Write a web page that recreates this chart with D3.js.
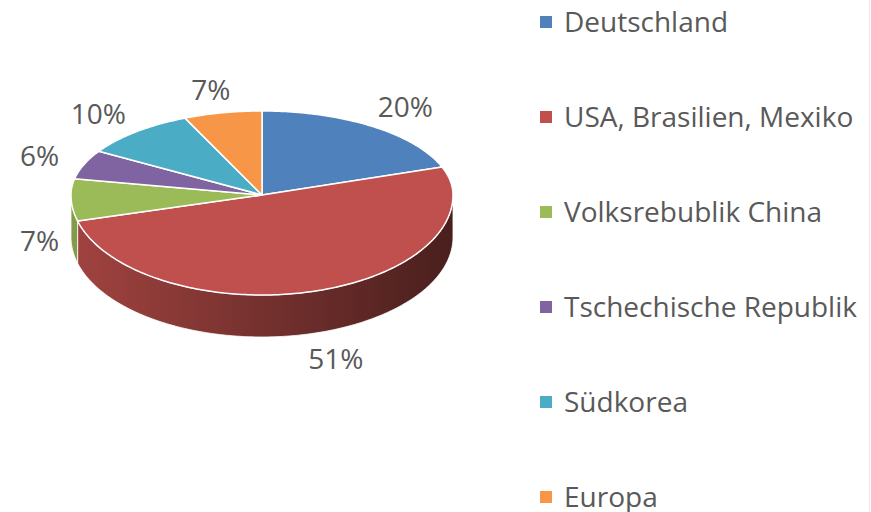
<!DOCTYPE html>
<html>
<head>
<meta charset="utf-8">
<script src="https://cdn.jsdelivr.net/npm/d3@7"></script>
<style>
    body { margin: 0; background: #fff; }
    svg text { font-family: "Open Sans", "Liberation Sans", sans-serif; fill: #595959; }
</style>
</head>
<body>
<div id="chart"></div>
<script>
    "use strict";

    // chart data
    const categories = ["Deutschland", "USA, Brasilien, Mexiko", "Volksrebublik China",
        "Tschechische Republik", "Südkorea", "Europa"];
    const shares = [19.6, 51.2, 7.3, 5.6, 9.7, 6.6];
    const colors = ["#4F81BD", "#C0504D", "#9BBB59", "#8064A2", "#4BACC6", "#F79646"];

    const width = 871;
    const height = 512;

    // pie geometry (tilted ellipse, slightly stretched at the front)
    const cx = 262, cy = 195;
    const rx = 191, ryTop = 84, ryBottom = 100;
    const depth = 42;
    const fontSize = 28;

    // point on the rim for an angle measured clockwise from 12 o'clock
    function rim(a, yOff) {
        let c = Math.cos(a);
        let ry = c > 0 ? ryTop : ryBottom;
        return [cx + rx * Math.sin(a), cy - ry * c + (yOff || 0)];
    }

    function arcPoints(a0, a1, yOff) {
        let pts = [];
        let n = Math.max(2, Math.ceil((a1 - a0) / (Math.PI / 180)));
        for (let i = 0; i <= n; i++) {
            pts.push(rim(a0 + (a1 - a0) * i / n, yOff));
        }
        return pts;
    }

    let svg = d3.select("#chart").append("svg")
        .attr("width", width)
        .attr("height", height);

    let defs = svg.append("defs");

    let pie = d3.pie().sort(null).value(d => d);
    let slices = pie(shares);
    let line = d3.line();

    // side walls, only the front half (90°..270°) is visible
    let sides = svg.append("g");
    slices.forEach((s, i) => {
        let a0 = Math.max(s.startAngle, Math.PI / 2);
        let a1 = Math.min(s.endAngle, Math.PI * 1.5);
        if (a1 <= a0) return;

        let grad = defs.append("linearGradient")
            .attr("id", "side" + i)
            .attr("gradientUnits", "userSpaceOnUse")
            .attr("x1", cx - rx).attr("x2", cx + rx)
            .attr("y1", 0).attr("y2", 0);
        grad.append("stop").attr("offset", 0).attr("stop-color", d3.color(colors[i]).darker(0.5));
        grad.append("stop").attr("offset", 1).attr("stop-color", d3.color(colors[i]).darker(2.7));

        let pts = arcPoints(a0, a1, 0).concat(arcPoints(a0, a1, depth).reverse());
        sides.append("path")
            .attr("d", line(pts) + "Z")
            .attr("fill", "url(#side" + i + ")")
            .attr("stroke", "#fff")
            .attr("stroke-width", 0.8);
    });

    // top faces
    svg.append("g").selectAll("path")
        .data(slices)
        .enter()
        .append("path")
        .attr("d", s => line([[cx, cy]].concat(arcPoints(s.startAngle, s.endAngle, 0))) + "Z")
        .attr("fill", (s, i) => colors[i])
        .attr("stroke", "#fff")
        .attr("stroke-width", 1.5)
        .attr("stroke-linejoin", "round");

    // percentage labels outside the rim
    let total = d3.sum(shares);
    let labels = svg.append("g");
    slices.forEach((s, i) => {
        let mid = (s.startAngle + s.endAngle) / 2;
        let c = Math.cos(mid);
        let ry = c > 0 ? ryTop : ryBottom;
        let x = cx + rx * 1.3 * Math.sin(mid);
        let y = cy - ry * 1.28 * c + (c < 0 ? depth : 0);
        let txt = labels.append("text")
            .attr("text-anchor", "middle")
            .attr("font-size", fontSize)
            .attr("dy", "0.35em")
            .text(Math.round(shares[i] / total * 100) + "%");
        let w = txt.node().getComputedTextLength();
        // keep label inside the chart area
        x = Math.max(x, 20 + w / 2);
        txt.attr("x", x).attr("y", y);
    });

    // legend
    let legendY = d3.scalePoint()
        .domain(categories)
        .range([22, 497]);

    let legend = svg.append("g").selectAll("g")
        .data(categories)
        .enter()
        .append("g")
        .attr("transform", d => "translate(540," + legendY(d) + ")");

    legend.append("rect")
        .attr("x", 0)
        .attr("y", -6)
        .attr("width", 12)
        .attr("height", 12)
        .attr("fill", (d, i) => colors[i]);

    legend.append("text")
        .attr("x", 24)
        .attr("dy", "0.35em")
        .attr("font-size", fontSize)
        .text(d => d);

    // faint frame line on the right
    svg.append("line")
        .attr("x1", 869.5).attr("x2", 869.5)
        .attr("y1", 0).attr("y2", height)
        .attr("stroke", "#e6e6e6")
        .attr("stroke-width", 1);
</script>
</body>
</html>
